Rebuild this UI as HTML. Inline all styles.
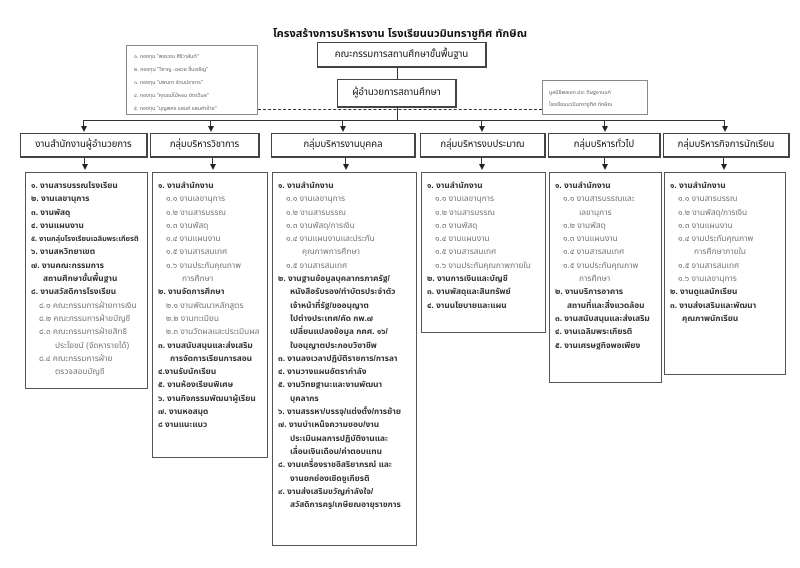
<!DOCTYPE html>
<html><head><meta charset="utf-8">
<style>
*{margin:0;padding:0;box-sizing:border-box}
body{width:800px;height:568px;background:#fff;position:relative;overflow:hidden;
font-family:"Liberation Sans","Noto Sans Thai","Loma","Garuda","Norasi","DejaVu Sans",sans-serif;color:#222}
.b{position:absolute;border:1px solid #555;background:#fff}
.h{position:absolute;border:1px solid #444;border-right-width:2px;border-bottom-width:2px;background:#fff;text-align:center;font-size:9.5px;line-height:22px;color:#111;white-space:nowrap}
.c{font-size:8.3px;line-height:13.3px;padding:6px 0 0 5px;white-space:nowrap;overflow:hidden}
.c div{font-weight:bold;color:#333}
.c .s{font-weight:normal;color:#777;padding-left:8px}
.c .w{padding-left:12px}
.c .sw{font-weight:normal;color:#777;padding-left:24px}
.ln{position:absolute;background:#333}
.ar{position:absolute;width:0;height:0;border-left:3px solid transparent;border-right:3px solid transparent;border-top:6px solid #222}
</style></head><body>
<div style="position:absolute;left:0;width:800px;top:25px;text-align:center;font-size:11px;font-weight:bold;color:#111">โครงสร้างการบริหารงาน โรงเรียนนวมินทราชูทิศ ทักษิณ</div>

<div class="h" style="left:317px;top:42px;width:170px;height:26px;line-height:23px">คณะกรรมการสถานศึกษาขั้นพื้นฐาน</div>
<div class="h" style="left:337px;top:79px;width:120px;height:29px;line-height:26px">ผู้อำนวยการสถานศึกษา</div>
<div class="ln" style="left:397px;top:67px;width:1px;height:12px"></div>
<div class="ln" style="left:397px;top:108px;width:1px;height:12px"></div>

<div class="b" style="left:126px;top:45px;width:132px;height:70px;font-size:5.3px;line-height:13px;padding:5px 0 0 7px;color:#666;border-color:#888;white-space:nowrap">
<div>๑. กองทุน "พรรวณ ศิริวาสันต์"</div>
<div>๒. กองทุน "วิชาญ -ฉลวย ชื่นเจริญ"</div>
<div>๓. กองทุน "นพนภา รัตนปราการ"</div>
<div>๔. กองทุน "คุณแม่ไม้หอม ยัตรวิมล"</div>
<div>๕. กองทุน "บุญพศร แสนค์ แสนคำอ้าย"</div>
</div>
<div class="b" style="left:542px;top:80px;width:106px;height:35px;font-size:5.3px;line-height:12px;padding:6px 0 0 6px;color:#666;border-color:#888;white-space:nowrap">
<div>มูลนิธิพลเอก.ประ ดิษฐอานนท์</div>
<div>โรงเรียนนวมินทราชูทิศ ทักษิณ</div>
</div>
<div style="position:absolute;left:258px;top:109px;width:284px;border-top:1px dashed #333"></div>

<div class="ln" style="left:83px;top:120px;width:642px;height:1px"></div>
<div class="ln" style="left:83px;top:120px;width:1px;height:7px"></div><div class="ar" style="left:81px;top:126px"></div>
<div class="ln" style="left:210px;top:120px;width:1px;height:7px"></div><div class="ar" style="left:208px;top:126px"></div>
<div class="ln" style="left:342px;top:120px;width:1px;height:7px"></div><div class="ar" style="left:340px;top:126px"></div>
<div class="ln" style="left:481px;top:120px;width:1px;height:7px"></div><div class="ar" style="left:479px;top:126px"></div>
<div class="ln" style="left:604px;top:120px;width:1px;height:7px"></div><div class="ar" style="left:602px;top:126px"></div>
<div class="ln" style="left:724px;top:120px;width:1px;height:7px"></div><div class="ar" style="left:722px;top:126px"></div>

<div class="h" style="left:20px;top:133px;width:128px;height:25px">งานสำนักงานผู้อำนวยการ</div>
<div class="h" style="left:150px;top:133px;width:110px;height:25px">กลุ่มบริหารวิชาการ</div>
<div class="h" style="left:271px;top:133px;width:145px;height:25px">กลุ่มบริหารงานบุคคล</div>
<div class="h" style="left:420px;top:133px;width:126px;height:25px">กลุ่มบริหารงบประมาณ</div>
<div class="h" style="left:548px;top:133px;width:113px;height:25px">กลุ่มบริหารทั่วไป</div>
<div class="h" style="left:663px;top:133px;width:127px;height:25px">กลุ่มบริหารกิจการนักเรียน</div>

<div class="ln" style="left:84px;top:158px;width:1px;height:8px"></div><div class="ar" style="left:82px;top:164px"></div>
<div class="ln" style="left:212px;top:158px;width:1px;height:8px"></div><div class="ar" style="left:210px;top:164px"></div>
<div class="ln" style="left:345px;top:158px;width:1px;height:8px"></div><div class="ar" style="left:343px;top:164px"></div>
<div class="ln" style="left:481px;top:158px;width:1px;height:8px"></div><div class="ar" style="left:479px;top:164px"></div>
<div class="ln" style="left:604px;top:158px;width:1px;height:8px"></div><div class="ar" style="left:602px;top:164px"></div>
<div class="ln" style="left:723px;top:158px;width:1px;height:8px"></div><div class="ar" style="left:721px;top:164px"></div>

<div class="b c" style="left:25px;top:172px;width:123px;height:217px">
<div>๑. งานสารบรรณโรงเรียน</div>
<div>๒. งานเลขานุการ</div>
<div>๓. งานพัสดุ</div>
<div>๔. งานแผนงาน</div>
<div style="font-size:7.3px">๕. งานกลุ่มโรงเรียนเฉลิมพระเกียรติ</div>
<div>๖. งานสหวิทยาเขต</div>
<div>๗. งานคณะกรรมการ</div>
<div class="w">สถานศึกษาขั้นพื้นฐาน</div>
<div>๘. งานสวัสดิการโรงเรียน</div>
<div class="s">๘.๑ คณะกรรมการฝ่ายการเงิน</div>
<div class="s">๘.๒ คณะกรรมการฝ่ายบัญชี</div>
<div class="s">๘.๓ คณะกรรมการฝ่ายสิทธิ</div>
<div class="sw">ประโยชน์ (จัดหารายได้)</div>
<div class="s">๘.๔ คณะกรรมการฝ่าย</div>
<div class="sw">ตรวจสอบบัญชี</div>
</div>

<div class="b c" style="left:152px;top:172px;width:116px;height:286px">
<div>๑. งานสำนักงาน</div>
<div class="s">๑.๑ งานเลขานุการ</div>
<div class="s">๑.๒ งานสารบรรณ</div>
<div class="s">๑.๓ งานพัสดุ</div>
<div class="s">๑.๔ งานแผนงาน</div>
<div class="s">๑.๕ งานสารสนเทศ</div>
<div class="s">๑.๖ งานประกันคุณภาพ</div>
<div class="sw">การศึกษา</div>
<div>๒. งานจัดการศึกษา</div>
<div class="s">๒.๑ งานพัฒนาหลักสูตร</div>
<div class="s">๒.๒ งานทะเบียน</div>
<div class="s">๒.๓ งานวัดผลและประเมินผล</div>
<div>๓. งานสนับสนุนและส่งเสริม</div>
<div class="w">การจัดการเรียนการสอน</div>
<div>๔.งานรับนักเรียน</div>
<div>๕. งานห้องเรียนพิเศษ</div>
<div>๖. งานกิจกรรมพัฒนาผู้เรียน</div>
<div>๗. งานหอสมุด</div>
<div>๘ งานแนะแนว</div>
</div>

<div class="b c" style="left:272px;top:172px;width:145px;height:374px">
<div>๑. งานสำนักงาน</div>
<div class="s">๑.๑ งานเลขานุการ</div>
<div class="s">๑.๒ งานสารบรรณ</div>
<div class="s">๑.๓ งานพัสดุ/การเงิน</div>
<div class="s">๑.๔ งานแผนงานและประกัน</div>
<div class="sw">คุณภาพการศึกษา</div>
<div class="s">๑.๕ งานสารสนเทศ</div>
<div>๒. งานฐานข้อมูลบุคลากรภาครัฐ/</div>
<div class="w">หนังสือรับรอง/ทำบัตรประจำตัว</div>
<div class="w">เจ้าหน้าที่รัฐ/ขออนุญาต</div>
<div class="w">ไปต่างประเทศ/คัด กพ.๗</div>
<div class="w">เปลี่ยนแปลงข้อมูล กคศ. ๑๖/</div>
<div class="w">ใบอนุญาตประกอบวิชาชีพ</div>
<div>๓. งานลงเวลาปฏิบัติราชการ/การลา</div>
<div>๔. งานวางแผนอัตรากำลัง</div>
<div>๕. งานวิทยฐานะและงานพัฒนา</div>
<div class="w">บุคลากร</div>
<div>๖. งานสรรหา/บรรจุ/แต่งตั้ง/การย้าย</div>
<div>๗. งานบำเหน็จความชอบ/งาน</div>
<div class="w">ประเมินผลการปฏิบัติงานและ</div>
<div class="w">เลื่อนเงินเดือน/ค่าตอบแทน</div>
<div>๘. งานเครื่องราชอิสริยาภรณ์ และ</div>
<div class="w">งานยกย่องเชิดชูเกียรติ</div>
<div>๙. งานส่งเสริมขวัญกำลังใจ/</div>
<div class="w">สวัสดิการครู/เกษียณอายุราชการ</div>
</div>

<div class="b c" style="left:421px;top:172px;width:125px;height:161px">
<div>๑. งานสำนักงาน</div>
<div class="s">๑.๑ งานเลขานุการ</div>
<div class="s">๑.๒ งานสารบรรณ</div>
<div class="s">๑.๓ งานพัสดุ</div>
<div class="s">๑.๔ งานแผนงาน</div>
<div class="s">๑.๕ งานสารสนเทศ</div>
<div class="s">๑.๖ งานประกันคุณภาพภายใน</div>
<div>๒. งานการเงินและบัญชี</div>
<div>๓. งานพัสดุและสินทรัพย์</div>
<div>๔. งานนโยบายและแผน</div>
</div>

<div class="b c" style="left:549px;top:172px;width:113px;height:211px">
<div>๑. งานสำนักงาน</div>
<div class="s">๑.๑ งานสารบรรณและ</div>
<div class="sw">เลขานุการ</div>
<div class="s">๑.๒ งานพัสดุ</div>
<div class="s">๑.๓ งานแผนงาน</div>
<div class="s">๑.๔ งานสารสนเทศ</div>
<div class="s">๑.๕ งานประกันคุณภาพ</div>
<div class="sw">การศึกษา</div>
<div>๒. งานบริการอาคาร</div>
<div class="w">สถานที่และสิ่งแวดล้อม</div>
<div>๓. งานสนับสนุนและส่งเสริม</div>
<div>๔. งานเฉลิมพระเกียรติ</div>
<div>๕. งานเศรษฐกิจพอเพียง</div>
</div>

<div class="b c" style="left:664px;top:172px;width:122px;height:203px">
<div>๑. งานสำนักงาน</div>
<div class="s">๑.๑ งานสารบรรณ</div>
<div class="s">๑.๒ งานพัสดุ/การเงิน</div>
<div class="s">๑.๓ งานแผนงาน</div>
<div class="s">๑.๔ งานประกันคุณภาพ</div>
<div class="sw">การศึกษาภายใน</div>
<div class="s">๑.๕ งานสารสนเทศ</div>
<div class="s">๑.๖ งานเลขานุการ</div>
<div>๒. งานดูแลนักเรียน</div>
<div>๓. งานส่งเสริมและพัฒนา</div>
<div class="w">คุณภาพนักเรียน</div>
</div>
</body></html>
